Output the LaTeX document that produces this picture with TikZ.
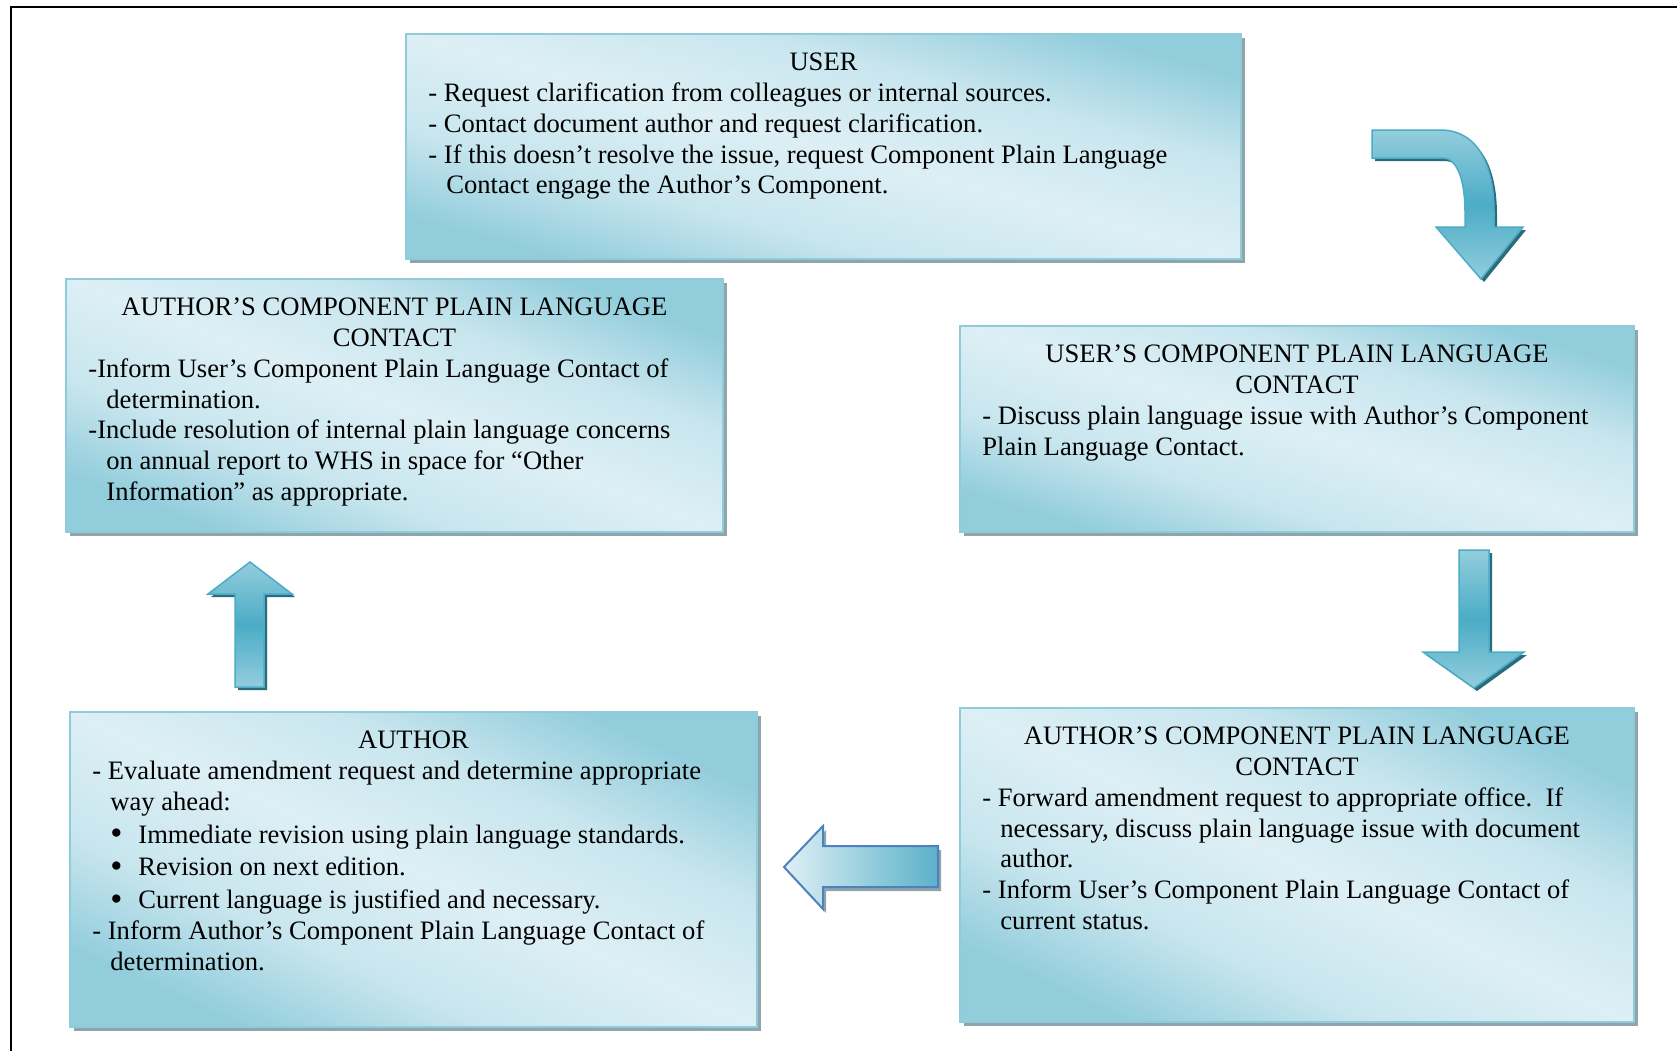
\documentclass[tikz,border=0pt]{standalone}
\usepackage{fontspec}
\usepackage{graphicx}
\setmainfont{Liberation Serif}
\usetikzlibrary{shadows,calc}
\definecolor{boxdark}{HTML}{92CDDC}
\definecolor{boxlight}{HTML}{DDEFF5}
\colorlet{boxmid}{boxlight!72!boxdark}
\definecolor{boxborder}{HTML}{8FCBDB}
\definecolor{shadowgray}{HTML}{8FA5AC}
\definecolor{arrowlight}{HTML}{93CDDD}
\definecolor{arrowdark}{HTML}{4BACC6}
\definecolor{arrowline}{HTML}{4BACC6}
\definecolor{arrowshadow}{HTML}{2B6B7C}
\definecolor{barlight}{HTML}{DEF0F5}
\definecolor{bardark}{HTML}{5BB1C9}
\definecolor{blueline}{HTML}{4F81BD}
\pgfdeclareverticalshading{boxshade}{100bp}{color(0bp)=(boxdark); color(25bp)=(boxdark); color(37bp)=(boxmid); color(50bp)=(boxlight); color(63bp)=(boxmid); color(75bp)=(boxdark); color(100bp)=(boxdark)}
\newcommand\bxfont{\fontsize{13.3pt}{15.375pt}\selectfont}
\newcommand\myind{\hspace*{9pt}}
\newcommand\mybul{\hspace*{9pt}\makebox[14pt][l]{\raisebox{-0.8pt}{\scalebox{1.3}{\textbullet}}}}
\begin{document}
\begin{tikzpicture}[x=0.5pt,y=-0.5pt,
  cbox/.style={draw=boxborder, line width=0.75pt, shading=boxshade, inner sep=0pt, outer sep=0pt, anchor=north west, drop shadow={shadow xshift=2pt, shadow yshift=-2pt, fill=shadowgray, opacity=1}},
  head/.style={anchor=north, align=center, inner sep=0pt, font=\bxfont},
  body/.style={anchor=north west, align=left, inner sep=0pt, font=\bxfont},
  tarrow/.style={draw=arrowline, line width=0.75pt, line join=miter, top color=arrowlight, bottom color=arrowlight, middle color=arrowdark, drop shadow={shadow xshift=1.5pt, shadow yshift=-1.5pt, fill=arrowshadow, opacity=1}},
  barrow/.style={draw=blueline, line width=1pt, left color=barlight, right color=bardark, drop shadow={shadow xshift=1.5pt, shadow yshift=-2pt, fill=shadowgray, opacity=1}}
]
\useasboundingbox (0,0) rectangle (1677,1051);
\fill[white] (0,0) rectangle (1677,1051);
\draw[line width=1pt] (1677,7) -- (11,7) -- (11,1051);

% boxes
\node[cbox, shading angle=-15.1, minimum width=417.5pt, minimum height=112.5pt] (user) at (406,34) {};
\node[cbox, shading angle=-21.1, minimum width=328.5pt, minimum height=126.5pt] (acl) at (66,279) {};
\node[cbox, shading angle=-17.0, minimum width=337pt, minimum height=103pt] (ucr) at (960,326) {};
\node[cbox, shading angle=-24.6, minimum width=343.5pt, minimum height=157.5pt] (auth) at (70,712) {};
\node[cbox, shading angle=-25.0, minimum width=337pt, minimum height=157pt] (acr) at (960,708) {};

% texts
\node[head] (userh) at ($(user.north)+(0,15)$) {\strut USER};
\node[body] (userb) at ($(user.north west)+(22,45.75)$) {\strut - Request clarification from colleagues or internal sources.\\
- Contact document author and request clarification.\\
- If this doesn’t resolve the issue, request Component Plain Language\\
\myind Contact engage the Author’s Component.};

\node[head] (aclh) at ($(acl.north)+(0,15)$) {\strut AUTHOR’S COMPONENT PLAIN LANGUAGE\\ CONTACT};
\node[body] (aclb) at ($(acl.north west)+(22,76.5)$) {\strut -Inform User’s Component Plain Language Contact of\\
\myind determination.\\
-Include resolution of internal plain language concerns\\
\myind on annual report to WHS in space for “Other\\
\myind Information” as appropriate.};

\node[head] (ucrh) at ($(ucr.north)+(0,15)$) {\strut USER’S COMPONENT PLAIN LANGUAGE\\ CONTACT};
\node[body] (ucrb) at ($(ucr.north west)+(22,76.5)$) {\strut - Discuss plain language issue with Author’s Component\\
Plain Language Contact.};

\node[head] (authh) at ($(auth.north)+(0,15)$) {\strut AUTHOR};
\node[body] (authb) at ($(auth.north west)+(22,45.75)$) {\strut - Evaluate amendment request and determine appropriate\\
\myind way ahead:\\[1pt]
\mybul Immediate revision using plain language standards.\\[1pt]
\mybul Revision on next edition.\\[1pt]
\mybul Current language is justified and necessary.\\
- Inform Author’s Component Plain Language Contact of\\
\myind determination.};

\node[head] (acrh) at ($(acr.north)+(0,15)$) {\strut AUTHOR’S COMPONENT PLAIN LANGUAGE\\ CONTACT};
\node[body] (acrb) at ($(acr.north west)+(22,76.5)$) {\strut - Forward amendment request to appropriate office.\ \ If\\
\myind necessary, discuss plain language issue with document\\
\myind author.\\
- Inform User’s Component Plain Language Contact of\\
\myind current status.};

% arrows
\path[tarrow] (1372,130) -- (1440,130) .. controls (1478,130) and (1494,165) .. (1494,212) -- (1494,227) -- (1523,227) -- (1481,279) -- (1436,227) -- (1465,227) -- (1465,212) .. controls (1465,180) and (1457,158) .. (1443,158) -- (1372,158) -- cycle;
\path[tarrow] (1459,550) -- (1489,550) -- (1489,652) -- (1524,652) -- (1474,688) -- (1423,652) -- (1459,652) -- cycle;
\path[tarrow] (250,562) -- (292,594) -- (264,594) -- (264,687) -- (235,687) -- (235,594) -- (208,594) -- cycle;
\path[barrow] (784,867) -- (823,826) -- (823,846) -- (938,846) -- (938,887) -- (823,887) -- (823,909) -- cycle;
\end{tikzpicture}
\end{document}
